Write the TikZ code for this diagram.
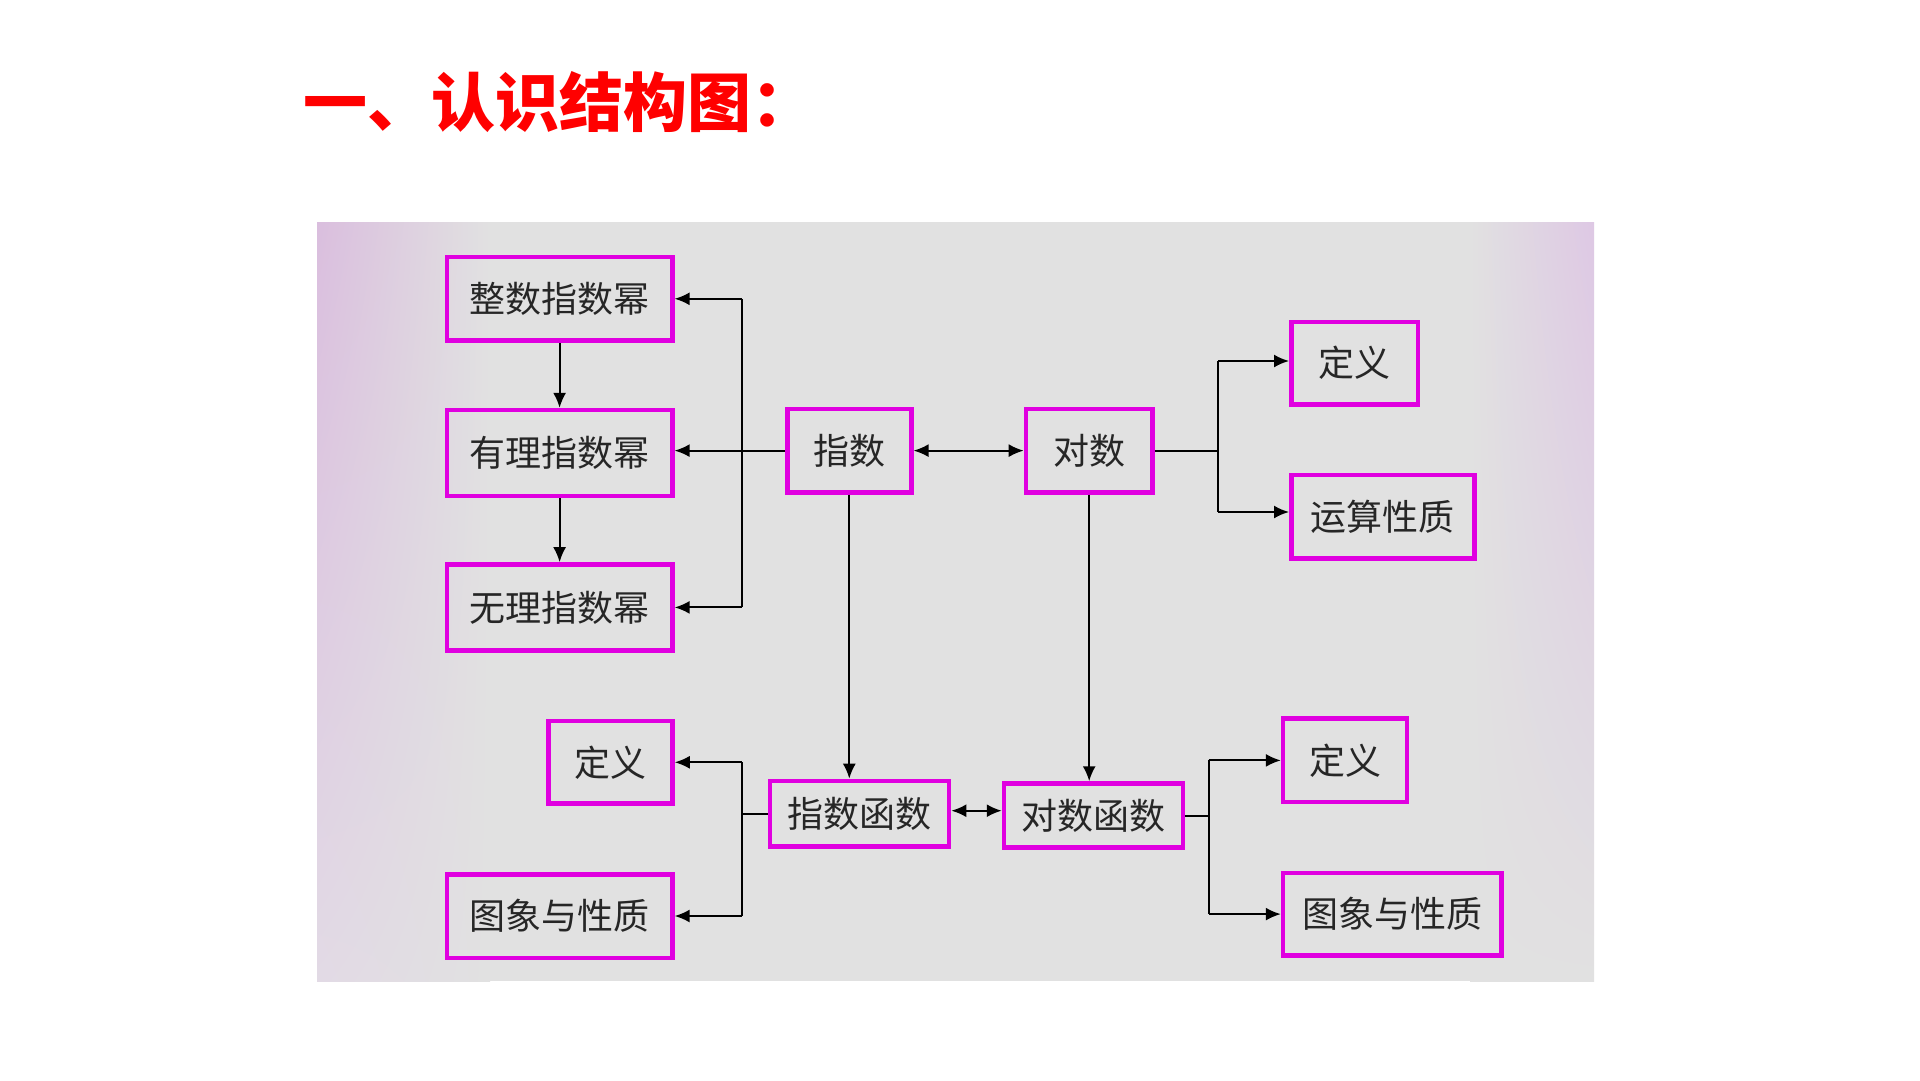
\documentclass[tikz,border=0pt]{standalone}
\usepackage{fontspec}
\newfontfamily\cjk{Noto Sans CJK SC}
\usetikzlibrary{arrows.meta,shadings}
\definecolor{mag}{RGB}{224,0,224}
\definecolor{panel}{RGB}{225,225,225}
\definecolor{pinkL}{RGB}{218,190,222}
\definecolor{pinkLb}{RGB}{226,218,229}
\definecolor{pinkR}{RGB}{222,200,228}
\definecolor{titlered}{RGB}{255,0,0}
\tikzset{
  box/.style={draw=mag, line width=4.5pt, inner sep=0pt, text=black!85,
    font=\cjk\fontsize{36}{36}\selectfont},
  ln/.style={line width=2pt},
  arr/.style={ln, -{Latex[length=15pt,width=13pt]}},
  darr/.style={ln, {Latex[length=15pt,width=13pt]}-{Latex[length=15pt,width=13pt]}},
}
\begin{document}
\begin{tikzpicture}[x=1pt,y=-1pt]
\useasboundingbox (0,0) rectangle (1920,1080);
\fill[white] (0,0) rectangle (1920,1080);
% panel
\fill[panel] (317,222) rectangle (1594,981);
\shade[upper left=pinkL, lower left=pinkLb, upper right=panel, lower right=panel] (317,222) rectangle (490,981);
\shade[upper left=panel, lower left=panel, upper right=pinkR, lower right=panel] (1470,222) rectangle (1594,981);
% title
\node[anchor=west, inner sep=0pt, text=titlered, font=\cjk\bfseries\fontsize{64}{64}\selectfont] (title) at (303,102) {一、认识结构图：};
% boxes
\node[box, minimum width=225.5pt, minimum height=83.5pt] (zs) at (559.6,298.8) {整数指数幂};
\node[box, minimum width=225.5pt, minimum height=86pt] (yl) at (559.6,453.1) {有理指数幂};
\node[box, minimum width=225.5pt, minimum height=86pt] (wl) at (559.6,607.4) {无理指数幂};
\node[box, minimum width=124pt, minimum height=83.5pt] (zhi) at (849.3,450.6) {指数};
\node[box, minimum width=126.5pt, minimum height=83.5pt] (dui) at (1089.2,450.6) {对数};
\node[box, minimum width=126.5pt, minimum height=82.5pt] (dy1) at (1354.5,363) {定义};
\node[box, minimum width=183.3pt, minimum height=83.5pt] (ys) at (1382.9,516.8) {运算性质};
\node[box, minimum width=124.2pt, minimum height=82.5pt] (dy2) at (610.4,762.3) {定义};
\node[box, minimum width=225.5pt, minimum height=83.5pt] (tx1) at (559.6,916) {图象与性质};
\node[box, minimum width=179pt, minimum height=65.5pt] (zf) at (859.6,813.7) {指数函数};
\node[box, minimum width=179pt, minimum height=64pt] (df) at (1093.5,815.5) {对数函数};
\node[box, minimum width=124pt, minimum height=83.5pt] (dy3) at (1345.1,760.4) {定义};
\node[box, minimum width=218.5pt, minimum height=82.5pt] (tx2) at (1392.3,914.1) {图象与性质};
% branch coordinates
\coordinate (b1) at (742,0);
\coordinate (b2) at (1218.4,0);
\coordinate (b3) at (742,0);
\coordinate (b4) at (1208.6,0);
% top-left group
\draw[arr] (zs.south) -- (yl.north);
\draw[arr] (yl.south) -- (wl.north);
\draw[arr] (zhi.west) -- (zhi.west -| yl.east);
\draw[ln] (b1 |- zs.east) -- (b1 |- wl.east);
\draw[arr] (b1 |- zs.east) -- (zs.east);
\draw[arr] (b1 |- wl.east) -- (wl.east);
% 指数 <-> 对数
\draw[darr] (zhi.east) -- (dui.west);
% 对数 branch
\draw[ln] (dui.east) -- (b2 |- dui.east);
\draw[ln] ([yshift=2pt]b2 |- dy1.west) -- ([yshift=4.8pt]b2 |- ys.west);
\draw[arr] ([yshift=2pt]b2 |- dy1.west) -- ([yshift=2pt]dy1.west);
\draw[arr] ([yshift=4.8pt]b2 |- ys.west) -- ([yshift=4.8pt]ys.west);
% downward
\draw[arr] (zhi.south) -- (zhi.south |- zf.north);
\draw[arr] (dui.south) -- (dui.south |- df.north);
% 指数函数 branch
\draw[ln] (zf.west) -- (b3 |- zf.west);
\draw[ln] (b3 |- dy2.east) -- (b3 |- tx1.east);
\draw[arr] (b3 |- dy2.east) -- (dy2.east);
\draw[arr] (b3 |- tx1.east) -- (tx1.east);
% 指数函数 <-> 对数函数
\draw[darr] ([yshift=3pt]zf.east) -- ([yshift=3pt]zf.east -| df.west);
% 对数函数 branch
\draw[ln] (df.east) -- (b4 |- df.east);
\draw[ln] (b4 |- dy3.west) -- (b4 |- tx2.west);
\draw[arr] (b4 |- dy3.west) -- (dy3.west);
\draw[arr] (b4 |- tx2.west) -- (tx2.west);
\end{tikzpicture}
\end{document}
